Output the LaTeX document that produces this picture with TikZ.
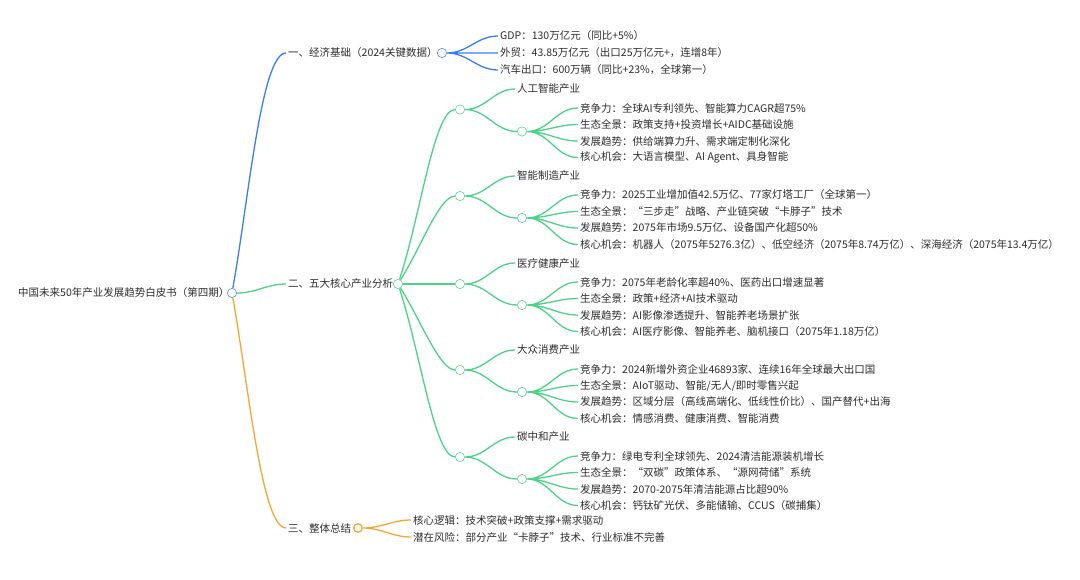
\documentclass[tikz,border=0pt]{standalone}
\usepackage{fontspec}
\setmainfont{Noto Sans CJK SC}
\usepackage{xcolor}
\usepackage{tikz}
\definecolor{bluelink}{RGB}{59,125,246}
\definecolor{greenlink}{RGB}{76,211,135}
\definecolor{orangelink}{RGB}{247,166,50}
\definecolor{textgray}{RGB}{45,45,45}

\begin{document}
\begin{tikzpicture}[
    x=1pt, y=-1pt,
    txt/.style={anchor=west, inner xsep=2pt, inner ysep=1pt, text=textgray, font=\fontsize{10.5}{12}\selectfont},
    dot/.style={circle, fill=white, line width=1.3pt, minimum size=8.5pt, inner sep=0pt},
    bdot/.style={dot, draw=bluelink},
    gdot/.style={dot, draw=greenlink},
    odot/.style={dot, draw=orangelink},
    blink/.style={line width=1.3pt, draw=bluelink},
    glink/.style={line width=1.3pt, draw=greenlink},
    olink/.style={line width=1.3pt, draw=orangelink},
    fan/.style={out=0, in=180}
  ]
    \fill[white] (0,0) rectangle (1080,579);
    \useasboundingbox (0,0) rectangle (1080,579);

    % root
    \node[txt] (root) at (16,293) {中国未来50年产业发展趋势白皮书（第四期）};
    \node[bdot] (rootdot) at (232,293) {};

    % branch one
    \node[txt] (econ) at (286,53) {一、经济基础（2024关键数据）};
    \node[bdot] (econdot) at (442,53) {};
    \node[txt] (econ1) at (498,36) {GDP：130万亿元（同比+5\%）};
    \node[txt] (econ2) at (498,53) {外贸：43.85万亿元（出口25万亿元+，连增8年）};
    \node[txt] (econ3) at (498,70) {汽车出口：600万辆（同比+23\%，全球第一）};

    % branch two
    \node[txt] (ind) at (286,284) {二、五大核心产业分析};
    \node[gdot] (inddot) at (398,284) {};

    \node[gdot] (aidot) at (460,109.5) {};
    \node[txt] (ai) at (515,89) {人工智能产业};
    \node[gdot] (aisub) at (522,131.5) {};
    \node[txt] (ai1) at (578,108) {竞争力：全球AI专利领先、智能算力CAGR超75\%};
    \node[txt] (ai2) at (578,124.5) {生态全景：政策支持+投资增长+AIDC基础设施};
    \node[txt] (ai3) at (578,141) {发展趋势：供给端算力升、需求端定制化深化};
    \node[txt] (ai4) at (578,157.5) {核心机会：大语言模型、AI Agent、具身智能};

    \node[gdot] (mfdot) at (460,196) {};
    \node[txt] (mf) at (515,176) {智能制造产业};
    \node[gdot] (mfsub) at (522,218) {};
    \node[txt] (mf1) at (578,195) {竞争力：2025工业增加值42.5万亿、77家灯塔工厂（全球第一）};
    \node[txt] (mf2) at (578,211.5) {生态全景：“三步走”战略、产业链突破“卡脖子”技术};
    \node[txt] (mf3) at (578,228) {发展趋势：2075年市场9.5万亿、设备国产化超50\%};
    \node[txt] (mf4) at (578,244.5) {核心机会：机器人（2075年5276.3亿）、低空经济（2075年8.74万亿）、深海经济（2075年13.4万亿）};

    \node[gdot] (meddot) at (460,284) {};
    \node[txt] (med) at (515,263) {医疗健康产业};
    \node[gdot] (medsub) at (522,305) {};
    \node[txt] (med1) at (578,282) {竞争力：2075年老龄化率超40\%、医药出口增速显著};
    \node[txt] (med2) at (578,298.5) {生态全景：政策+经济+AI技术驱动};
    \node[txt] (med3) at (578,315) {发展趋势：AI影像渗透提升、智能养老场景扩张};
    \node[txt] (med4) at (578,331.5) {核心机会：AI医疗影像、智能养老、脑机接口（2075年1.18万亿）};

    \node[gdot] (condot) at (460,370) {};
    \node[txt] (con) at (515,350) {大众消费产业};
    \node[gdot] (consub) at (522,392) {};
    \node[txt] (con1) at (578,369) {竞争力：2024新增外资企业46893家、连续16年全球最大出口国};
    \node[txt] (con2) at (578,385.5) {生态全景：AIoT驱动、智能/无人/即时零售兴起};
    \node[txt] (con3) at (578,402) {发展趋势：区域分层（高线高端化、低线性价比）、国产替代+出海};
    \node[txt] (con4) at (578,418.5) {核心机会：情感消费、健康消费、智能消费};

    \node[gdot] (cndot) at (460,457) {};
    \node[txt] (cn) at (515,437) {碳中和产业};
    \node[gdot] (cnsub) at (522,479) {};
    \node[txt] (cn1) at (578,456) {竞争力：绿电专利全球领先、2024清洁能源装机增长};
    \node[txt] (cn2) at (578,472.5) {生态全景：“双碳”政策体系、“源网荷储”系统};
    \node[txt] (cn3) at (578,489) {发展趋势：2070-2075年清洁能源占比超90\%};
    \node[txt] (cn4) at (578,505.5) {核心机会：钙钛矿光伏、多能储输、CCUS（碳捕集）};

    % branch three
    \node[txt] (sum) at (286,528) {三、整体总结};
    \node[odot] (sumdot) at (358,528) {};
    \node[txt] (sum1) at (411,520) {核心逻辑：技术突破+政策支撑+需求驱动};
    \node[txt] (sum2) at (411,537) {潜在风险：部分产业“卡脖子”技术、行业标准不完善};

    % links
    \draw[blink] (rootdot) to[out=80, in=180, in looseness=0.26] (econ.west);
    \draw[glink] (rootdot) to[fan] (ind.west);
    \draw[olink] (rootdot) to[out=-80, in=180, in looseness=0.26] (sum.west);

    \draw[blink] (econ) -- (econdot);
    \draw[blink] (econdot) to[fan] (econ1.west) (econdot) to[fan] (econ2.west) (econdot) to[fan] (econ3.west);

    \draw[glink] (ind) -- (inddot);
    \draw[glink] (inddot) to[out=72, in=180, in looseness=0.3] (aidot);
    \draw[glink] (inddot) to[out=58, in=180, in looseness=0.4] (mfdot);
    \draw[glink] (inddot) -- (meddot);
    \draw[glink] (inddot) to[out=-58, in=180, in looseness=0.4] (condot);
    \draw[glink] (inddot) to[out=-72, in=180, in looseness=0.3] (cndot);

    \draw[glink] (aidot) to[fan] (ai.west) (aidot) to[fan] (aisub);
    \draw[glink] (aisub) to[fan] (ai1.west) (aisub) to[fan] (ai2.west) (aisub) to[fan] (ai3.west) (aisub) to[fan] (ai4.west);
    \draw[glink] (mfdot) to[fan] (mf.west) (mfdot) to[fan] (mfsub);
    \draw[glink] (mfsub) to[fan] (mf1.west) (mfsub) to[fan] (mf2.west) (mfsub) to[fan] (mf3.west) (mfsub) to[fan] (mf4.west);
    \draw[glink] (meddot) to[fan] (med.west) (meddot) to[fan] (medsub);
    \draw[glink] (medsub) to[fan] (med1.west) (medsub) to[fan] (med2.west) (medsub) to[fan] (med3.west) (medsub) to[fan] (med4.west);
    \draw[glink] (condot) to[fan] (con.west) (condot) to[fan] (consub);
    \draw[glink] (consub) to[fan] (con1.west) (consub) to[fan] (con2.west) (consub) to[fan] (con3.west) (consub) to[fan] (con4.west);
    \draw[glink] (cndot) to[fan] (cn.west) (cndot) to[fan] (cnsub);
    \draw[glink] (cnsub) to[fan] (cn1.west) (cnsub) to[fan] (cn2.west) (cnsub) to[fan] (cn3.west) (cnsub) to[fan] (cn4.west);

    \draw[olink] (sum) -- (sumdot);
    \draw[olink] (sumdot) to[fan] (sum1.west) (sumdot) to[fan] (sum2.west);

    % dots on top of the links
    \foreach \d in {rootdot,econdot,inddot,aidot,aisub,mfdot,mfsub,meddot,medsub,condot,consub,cndot,cnsub} {
      \node[dot, draw=none] at (\d) {};
    }
  \end{tikzpicture}
\end{document}
